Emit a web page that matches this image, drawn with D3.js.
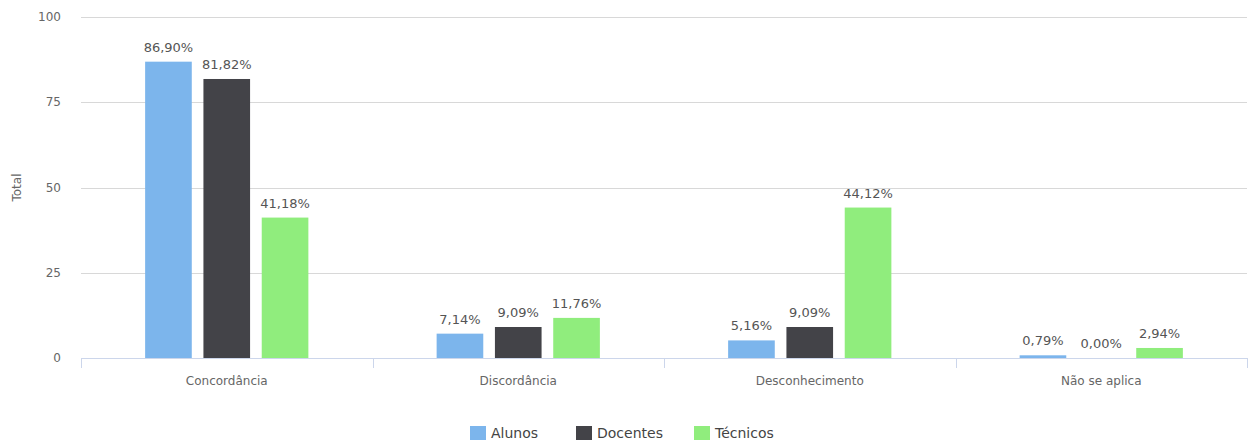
<!DOCTYPE html>
<html>
<head>
<meta charset="utf-8">
<script src="https://cdn.jsdelivr.net/npm/d3@7"></script>
<style>
  body { margin: 0; background: #fff; }
  svg text { font-family: "DejaVu Sans", sans-serif; }
</style>
</head>
<body>
<div id="chart"></div>
<script>
// categories and series
var categories = ["Concordância", "Discordância", "Desconhecimento", "Não se aplica"];
var seriesNames = ["Alunos", "Docentes", "Técnicos"];
var seriesColors = ["#7cb5ec", "#434348", "#90ed7d"];
var alunos = [86.90, 7.14, 5.16, 0.79];
var docentes = [81.82, 9.09, 9.09, 0.00];
var tecnicos = [41.18, 11.76, 44.12, 2.94];
var yTicks = [0, 25, 50, 75, 100];

var seriesValues = [alunos, docentes, tecnicos];

var width = 1254;
var height = 441;
// plot edges (note: "top" is a reserved window prop, so use plot_*)
var plot_left = 81, plot_right = 1247, plot_top = 17, plot_bottom = 358;

var svg = d3.select("#chart").append("svg")
  .attr("width", width)
  .attr("height", height);

var x = d3.scaleBand()
  .domain(categories)
  .range([plot_left, plot_right])
  .paddingInner(0)
  .paddingOuter(0);

var y = d3.scaleLinear()
  .domain([0, 100])
  .range([plot_bottom, plot_top]);

// gridlines
svg.append("g")
  .selectAll("line")
  .data(yTicks.filter(function(d) { return d > 0; }))
  .enter().append("line")
    .attr("x1", plot_left)
    .attr("x2", plot_right)
    .attr("y1", function(d) { return Math.round(y(d)) + 0.5; })
    .attr("y2", function(d) { return Math.round(y(d)) + 0.5; })
    .attr("stroke", "#d8d8d8")
    .attr("stroke-width", 1);

// y labels
svg.append("g")
  .selectAll("text")
  .data(yTicks)
  .enter().append("text")
    .attr("x", 61)
    .attr("y", function(d) { return y(d); })
    .attr("dy", "0.35em")
    .attr("text-anchor", "end")
    .attr("font-size", 12)
    .attr("fill", "#666")
    .text(function(d) { return d; });

svg.append("text")
  .attr("transform", "translate(21," + ((plot_top + plot_bottom) / 2) + ") rotate(-90)")
  .attr("text-anchor", "middle")
  .attr("font-size", 12)
  .attr("fill", "#666")
  .text("Total");

// bars (groupPadding 0.2, pointPadding 0.1 like the original)
var groupPad = x.bandwidth() * 0.2;
var slot = (x.bandwidth() - 2 * groupPad) / seriesNames.length;
var pointPad = slot * 0.1;

seriesValues.forEach(function(vals, si) {
  var g = svg.append("g");
  var rows = categories.map(function(c, i) { return { cat: c, v: vals[i] }; });

  g.selectAll("rect")
    .data(rows)
    .enter().append("rect")
      .attr("x", function(d) { return x(d.cat) + groupPad + si * slot + pointPad; })
      .attr("width", slot - 2 * pointPad)
      .attr("y", function(d) { return y(d.v); })
      .attr("height", function(d) { return plot_bottom - y(d.v); })
      .attr("fill", seriesColors[si]);

  g.selectAll("text")
    .data(rows)
    .enter().append("text")
      .attr("x", function(d) { return x(d.cat) + groupPad + si * slot + slot / 2; })
      .attr("y", function(d) { return y(d.v) - 10; })
      .attr("text-anchor", "middle")
      .attr("font-size", 13)
      .attr("fill", "#555")
      .text(function(d) { return d.v.toFixed(2).replace(".", ",") + "%"; });
});

// x axis
var xaxis = svg.append("g");
xaxis.append("line")
  .attr("x1", plot_left).attr("x2", plot_right)
  .attr("y1", plot_bottom + 0.5).attr("y2", plot_bottom + 0.5)
  .attr("stroke", "#ccd6eb");

var edges = categories.map(function(c) { return x(c); }).concat([plot_right]);
xaxis.selectAll(".tk")
  .data(edges)
  .enter().append("line")
    .attr("class", "tk")
    .attr("x1", function(d) { return Math.round(d) + 0.5; })
    .attr("x2", function(d) { return Math.round(d) + 0.5; })
    .attr("y1", plot_bottom)
    .attr("y2", plot_bottom + 10)
    .attr("stroke", "#ccd6eb");

xaxis.selectAll(".lbl")
  .data(categories)
  .enter().append("text")
    .attr("class", "lbl")
    .attr("x", function(d) { return x(d) + x.bandwidth() / 2; })
    .attr("y", 385)
    .attr("text-anchor", "middle")
    .attr("font-size", 12)
    .attr("fill", "#666")
    .text(function(d) { return d; });

// legend
var legendX = [470, 576, 694];
var legend = svg.append("g");
seriesNames.forEach(function(name, i) {
  legend.append("rect")
    .attr("x", legendX[i])
    .attr("y", 426)
    .attr("width", 16)
    .attr("height", 14)
    .attr("fill", seriesColors[i]);
  legend.append("text")
    .attr("x", legendX[i] + 21)
    .attr("y", 438)
    .attr("font-size", 14)
    .attr("fill", "#444")
    .text(name);
});
</script>
</body>
</html>
